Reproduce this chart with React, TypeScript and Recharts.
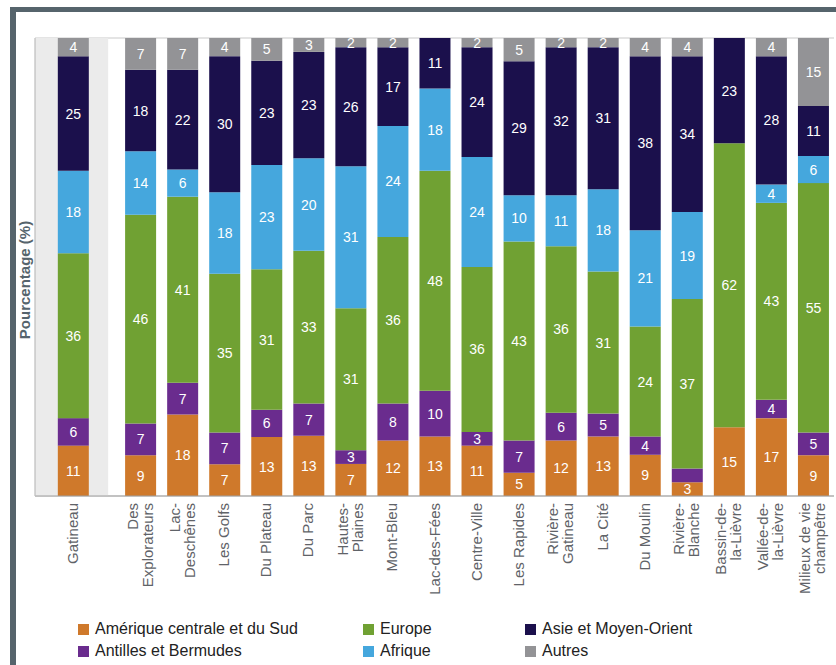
import React from "react";
import { BarChart, Bar, XAxis, YAxis, CartesianGrid, LabelList, ReferenceArea } from "recharts";

const categories = [
  "Gatineau", "Des Explorateurs", "Lac-Deschênes", "Les Golfs", "Du Plateau", "Du Parc",
  "Hautes-Plaines", "Mont-Bleu", "Lac-des-Fées", "Centre-Ville", "Les Rapides",
  "Rivière-Gatineau", "La Cité", "Du Moulin", "Rivière-Blanche", "Bassin-de-la-Lièvre",
  "Vallée-de-la-Lièvre", "Milieux de vie champêtre",
];

const categoryLines = [
  ["Gatineau"], ["Des", "Explorateurs"], ["Lac-", "Deschênes"], ["Les Golfs"], ["Du Plateau"],
  ["Du Parc"], ["Hautes-", "Plaines"], ["Mont-Bleu"], ["Lac-des-Fées"], ["Centre-Ville"],
  ["Les Rapides"], ["Rivière-", "Gatineau"], ["La Cité"], ["Du Moulin"], ["Rivière-", "Blanche"],
  ["Bassin-de-", "la-Lièvre"], ["Vallée-de-", "la-Lièvre"], ["Milieux de vie", "champêtre"],
];

const amerique = [11, 9, 18, 7, 13, 13, 7, 12, 13, 11, 5, 12, 13, 9, 3, 15, 17, 9];
const antilles = [6, 7, 7, 7, 6, 7, 3, 8, 10, 3, 7, 6, 5, 4, 3, 0, 4, 5];
const europe = [36, 46, 41, 35, 31, 33, 31, 36, 48, 36, 43, 36, 31, 24, 37, 62, 43, 55];
const afrique = [18, 14, 6, 18, 23, 20, 31, 24, 18, 24, 10, 11, 18, 21, 19, 0, 4, 6];
const asie = [25, 18, 22, 30, 23, 23, 26, 17, 11, 24, 29, 32, 31, 38, 34, 23, 28, 11];
const autres = [4, 7, 7, 4, 5, 3, 2, 2, 0, 2, 5, 2, 2, 4, 4, 0, 4, 15];

const hiddenLabels = [{ category: "Rivière-Blanche", series: "antilles" }];

const yTicks = [0, 0.1, 0.2, 0.3, 0.4, 0.5, 0.6, 0.7, 0.8, 0.9, 1];

const series = [
  { key: "amerique", name: "Amérique centrale et du Sud", color: "#cf792b", values: amerique },
  { key: "antilles", name: "Antilles et Bermudes", color: "#6a2c8e", values: antilles },
  { key: "europe", name: "Europe", color: "#70a133", values: europe },
  { key: "afrique", name: "Afrique", color: "#45a7dd", values: afrique },
  { key: "asie", name: "Asie et Moyen-Orient", color: "#1b104c", values: asie },
  { key: "autres", name: "Autres", color: "#939396", values: autres },
];

const legendOrder = [
  ["amerique", "europe", "asie"],
  ["antilles", "afrique", "autres"],
];

const data = categories.map((c, i) => {
  const row: any = { name: c, pos: i === 0 ? 0.9 : i + 1.5 };
  series.forEach((s) => {
    row[s.key] = s.values[i];
  });
  return row;
});

const boundaryTicks = [0, ...categories.slice(1).map((_, i) => i + 2), categories.length + 1];

const FONT = "'Liberation Sans', Arial, Helvetica, sans-serif";

const CategoryTick = (props: any) => {
  const { x, y, payload } = props;
  const idx = data.findIndex((d) => Math.abs(d.pos - payload.value) < 1e-6);
  if (idx < 0) return null;
  const lines = categoryLines[idx];
  const lh = 15;
  const start = -((lines.length - 1) * lh) / 2;
  return (
    <g transform={`translate(${x},${y + 1}) rotate(-90)`}>
      {lines.map((ln, k) => (
        <text
          key={k}
          x={0}
          y={start + k * lh + 5}
          textAnchor="end"
          fill="#5f6368"
          fontSize={15}
          fontFamily={FONT}
        >
          {ln}
        </text>
      ))}
    </g>
  );
};

const makeLabel = (seriesKey: string) => (props: any) => {
  const { x, y, width, height, value, index } = props;
  if (!value) return null;
  const cat = categories[index];
  if (hiddenLabels.some((h) => h.category === cat && h.series === seriesKey)) return null;
  return (
    <text
      x={x + width / 2}
      y={y + height / 2}
      textAnchor="middle"
      dominantBaseline="central"
      fill="#ffffff"
      fontSize={14}
      fontFamily={FONT}
    >
      {value}
    </text>
  );
};

export default function App() {
  return (
    <div
      style={{
        position: "absolute",
        left: 0,
        top: 0,
        width: 836,
        height: 665,
        overflow: "hidden",
        background: "#ffffff",
        fontFamily: FONT,
      }}
    >
      <div
        style={{
          position: "absolute",
          left: 10,
          top: 7,
          width: 900,
          height: 700,
          borderLeft: "6px solid #56646c",
          borderTop: "5px solid #56646c",
          boxSizing: "border-box",
        }}
      />
      <div style={{ position: "absolute", left: 0, top: 0 }}>
        <BarChart
          width={836}
          height={665}
          data={data}
          stackOffset="expand"
          margin={{ top: 38, right: 2, left: 0, bottom: 53 }}
        >
          <ReferenceArea xAxisId="axisB" x1={0} x2={1.74} y1={0} y2={1} fill="#ebebeb" fillOpacity={1} stroke="none" />
          <CartesianGrid xAxisId="axisB" horizontal vertical={false} stroke="#c9c9c9" strokeWidth={1.2} />
          <XAxis
            xAxisId="axisA"
            type="number"
            dataKey="pos"
            domain={[0, categories.length + 1]}
            ticks={boundaryTicks}
            tick={false}
            tickSize={5}
            axisLine={{ stroke: "#a0a0a0", strokeWidth: 1.2 }}
            tickLine={{ stroke: "#a0a0a0", strokeWidth: 1.2 }}
            height={6}
            allowDataOverflow
          />
          <XAxis
            xAxisId="axisB"
            type="number"
            dataKey="pos"
            domain={[0, categories.length + 1]}
            ticks={data.map((d) => d.pos)}
            tick={<CategoryTick />}
            tickLine={false}
            axisLine={false}
            tickSize={0}
            tickMargin={0}
            interval={0}
            height={110}
            allowDataOverflow
          />
          <YAxis
            type="number"
            domain={[0, 1]}
            ticks={yTicks}
            tick={false}
            tickLine={false}
            axisLine={{ stroke: "#bdbdbd", strokeWidth: 1.2 }}
            width={35}
            allowDataOverflow
            label={{
              content: () => (
                <text
                  x={24}
                  y={280}
                  transform="rotate(-90 24 280)"
                  textAnchor="middle"
                  dominantBaseline="central"
                  fill="#56646c"
                  fontSize={15}
                  fontWeight="bold"
                  fontFamily={FONT}
                >
                  Pourcentage (%)
                </text>
              ),
            }}
          />
          {series.map((s) => (
            <Bar
              key={s.key}
              xAxisId="axisB"
              dataKey={s.key}
              name={s.name}
              stackId="a"
              fill={s.color}
              barSize={31}
              isAnimationActive={false}
            >
              <LabelList dataKey={s.key} content={makeLabel(s.key)} />
            </Bar>
          ))}
        </BarChart>
      </div>
      {legendOrder.map((row, r) =>
        row.map((key, c) => {
          const s = series.find((x) => x.key === key)!;
          const lefts = [78, 363, 525];
          return (
            <div
              key={key}
              style={{
                position: "absolute",
                left: lefts[c],
                top: 620 + r * 22,
                display: "flex",
                alignItems: "center",
                fontSize: 16,
                color: "#222",
                whiteSpace: "nowrap",
                lineHeight: "18px",
              }}
            >
              <span style={{ display: "inline-block", width: 11, height: 11, background: s.color, marginRight: 6 }} />
              <span>{s.name}</span>
            </div>
          );
        })
      )}
    </div>
  );
}
